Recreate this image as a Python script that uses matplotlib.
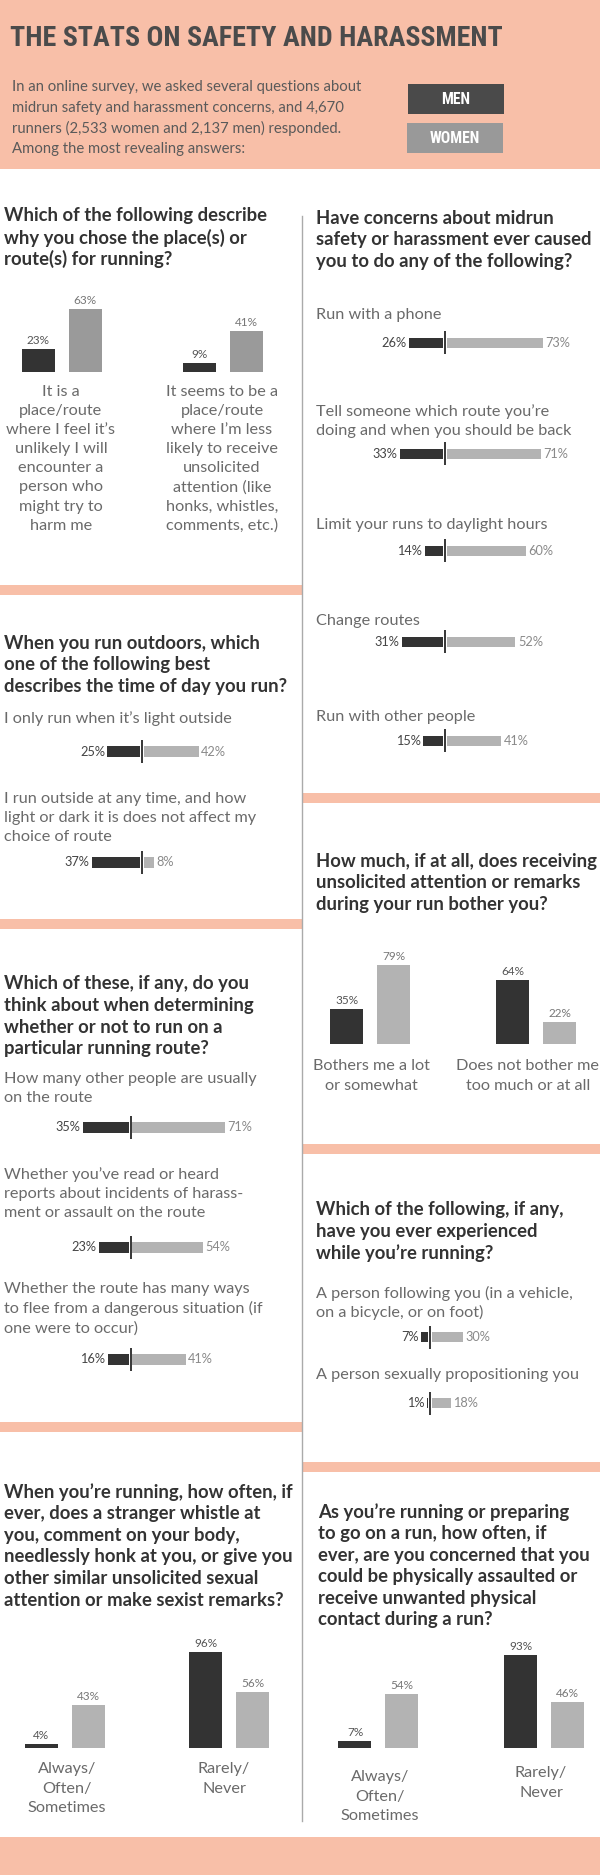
import matplotlib
matplotlib.use("Agg")
import matplotlib.pyplot as plt
from matplotlib import font_manager
from matplotlib.patches import Rectangle

# ---------------- data ----------------
header_title = "THE STATS ON SAFETY AND HARASSMENT"
header_lines = ["In an online survey, we asked several questions about",
                "midrun safety and harassment concerns, and 4,670",
                "runners (2,533 women and 2,137 men) responded.",
                "Among the most revealing answers:"]
legend_labels = ["MEN", "WOMEN"]

# Left column
a_title = ["Which of the following describe", "why you chose the place(s) or",
           "route(s) for running?"]
a_cats = [["It is a", "place/route", "where I feel it\u2019s", "unlikely I will",
           "encounter a", "person who", "might try to", "harm me"],
          ["It seems to be a", "place/route", "where I\u2019m less", "likely to receive",
           "unsolicited", "attention (like", "honks, whistles,", "comments, etc.)"]]
a_men = [23, 9]
a_women = [63, 41]

b_title = ["When you run outdoors, which", "one of the following best",
           "describes the time of day you run?"]
b_items = [["I only run when it\u2019s light outside"],
           ["I run outside at any time, and how", "light or dark it is does not affect my",
            "choice of route"]]
b_men = [25, 37]
b_women = [42, 8]

c_title = ["Which of these, if any, do you", "think about when determining",
           "whether or not to run on a", "particular running route?"]
c_items = [["How many other people are usually", "on the route"],
           ["Whether you\u2019ve read or heard", "reports about incidents of harass-",
            "ment or assault on the route"],
           ["Whether the route has many ways", "to flee from a dangerous situation (if",
            "one were to occur)"]]
c_men = [35, 23, 16]
c_women = [71, 54, 41]

d_title = ["When you\u2019re running, how often, if", "ever, does a stranger whistle at",
           "you, comment on your body,", "needlessly honk at you, or give you",
           "other similar unsolicited sexual", "attention or make sexist remarks?"]
d_cats = [["Always/", "Often/", "Sometimes"], ["Rarely/", "Never"]]
d_men = [4, 96]
d_women = [43, 56]

# Right column
e_title = ["Have concerns about midrun", "safety or harassment ever caused",
           "you to do any of the following?"]
e_items = [["Run with a phone"],
           ["Tell someone which route you\u2019re", "doing and when you should be back"],
           ["Limit your runs to daylight hours"],
           ["Change routes"],
           ["Run with other people"]]
e_men = [26, 33, 14, 31, 15]
e_women = [73, 71, 60, 52, 41]

f_title = ["How much, if at all, does receiving", "unsolicited attention or remarks",
           "during your run bother you?"]
f_cats = [["Bothers me a lot", "or somewhat"], ["Does not bother me", "too much or at all"]]
f_men = [35, 64]
f_women = [79, 22]

g_title = ["Which of the following, if any,", "have you ever experienced",
           "while you\u2019re running?"]
g_items = [["A person following you (in a vehicle,", "on a bicycle, or on foot)"],
           ["A person sexually propositioning you"]]
g_men = [7, 1]
g_women = [30, 18]

h_title = ["As you\u2019re running or preparing", "to go on a run, how often, if",
           "ever, are you concerned that you", "could be physically assaulted or",
           "receive unwanted physical", "contact during a run?"]
h_cats = [["Always/", "Often/", "Sometimes"], ["Rarely/", "Never"]]
h_men = [7, 93]
h_women = [54, 46]

# ---------------- style ----------------
PINK = "#F8BFA8"
DARK = "#333333"
LIGHT = "#b3b3b3"
MID = "#9a9a9a"
TITLE_C = "#333333"
BODY_C = "#6a6a6a"
HEAD_C = "#4b4b4b"

names = {f.name for f in font_manager.fontManager.ttflist}


def pick(cands, default="DejaVu Sans"):
    for c in cands:
        if c in names:
            return c
    return default


BODY = pick(["Lato", "Open Sans", "Roboto", "Noto Sans"])
COND = pick(["Roboto Condensed", "Liberation Sans Narrow", "DejaVu Sans Condensed",
             "Open Sans Condensed"], BODY)
COND_W = 900

W, H = 600, 1875
fig = plt.figure(figsize=(W / 100, H / 100), dpi=100)
bg = fig.add_axes([0, 0, 1, 1])
bg.set_xlim(0, W)
bg.set_ylim(H, 0)
bg.axis("off")
renderer = fig.canvas.get_renderer()


def fit(s, target, **kw):
    t = fig.text(0, 0, s, fontsize=10, **kw)
    w = t.get_window_extent(renderer).width
    t.remove()
    return 10.0 * target / w


def px_axes(x0, y0, x1, y1):
    return fig.add_axes([x0 / W, 1 - y1 / H, (x1 - x0) / W, (y1 - y0) / H])


def rect(x0, y0, x1, y1, color):
    bg.add_patch(Rectangle((x0, y0), x1 - x0, y1 - y0, color=color, lw=0))


TITLE_FS = fit("Which of the following describe", 264, family=BODY, weight="bold")
BODY_FS = fit("I only run when it\u2019s light outside", 227, family=BODY)
HEAD_FS = fit(header_lines[0], 351, family=BODY)
BIG_FS = fit(header_title, 492, family=COND, weight=COND_W)
LEG_FS = fit("WOMEN", 50, family=COND, weight=COND_W)
PCT_FS = fit("73%", 25, family=BODY)
VPCT_FS = fit("63%", 23, family=BODY)

T_OFF = 3.0   # vertical nudge for bold question lines
B_OFF = 1.5   # vertical nudge for body lines


def text_lines(x, y0, lines, step, ha="left", dy=B_OFF, **kw):
    for i, s in enumerate(lines):
        bg.text(x, y0 + dy + i * step, s, ha=ha, va="center", **kw)


def qtitle(x, y0, lines):
    text_lines(x, y0, lines, 21.6, dy=T_OFF, family=BODY, weight="bold",
               fontsize=TITLE_FS, color=TITLE_C)


# ---------------- background ----------------
rect(0, 0, 600, 169, PINK)
rect(0, 1837, 600, 1875, PINK)
for y0 in (585, 919, 1422):
    rect(0, y0, 302, y0 + 10, PINK)
for y0 in (793, 1144, 1462):
    rect(302, y0, 600, y0 + 10, PINK)
bg.plot([302, 302], [216, 1821], color="#aaaaaa", lw=1)

# header
bg.text(10, 39, header_title, family=COND, weight=COND_W,
        fontsize=BIG_FS, color=HEAD_C, va="center", ha="left")
text_lines(12, 86, header_lines, 20.4, family=BODY, fontsize=HEAD_FS, color="#5a5a5a")
rect(408, 84, 504, 114, "#4a4a4a")
rect(407, 123, 503, 153, "#999999")
bg.text(456, 99.5, legend_labels[0], family=COND, weight=COND_W,
        fontsize=LEG_FS, color="white", ha="center", va="center")
bg.text(455, 138.5, legend_labels[1], family=COND, weight=COND_W,
        fontsize=LEG_FS, color="white", ha="center", va="center")


# ---------------- chart helpers ----------------
def vbars(col_x0, baseline, centers, men, women, wcolor, cats, cat_xs, cat_ys,
          off=23.5, bw=33):
    ax = px_axes(col_x0, baseline - 120, col_x0 + 300, baseline)
    ax.set_xlim(col_x0, col_x0 + 300)
    ax.set_ylim(0, 120)
    ax.axis("off")
    mx = [c - off for c in centers]
    wx = [c + off for c in centers]
    ax.bar(mx, men, width=bw, color=DARK)
    ax.bar(wx, women, width=bw, color=wcolor)
    for x, v in zip(mx, men):
        ax.annotate(f"{v}%", (x, v), xytext=(0, 2.5), textcoords="offset points",
                    ha="center", va="bottom", fontsize=VPCT_FS, family=BODY,
                    color="#555555", annotation_clip=False)
    for x, v in zip(wx, women):
        ax.annotate(f"{v}%", (x, v), xytext=(0, 2.5), textcoords="offset points",
                    ha="center", va="bottom", fontsize=VPCT_FS, family=BODY,
                    color="#777777", annotation_clip=False)
    for cx, cy, lines in zip(cat_xs, cat_ys, cats):
        text_lines(cx, cy, lines, 19.2, ha="center", family=BODY, fontsize=BODY_FS,
                   color=BODY_C)


def dbars(col_x0, col_x1, y0, y1, cx, scale, bar_ys, men, women, bar_h=10.5,
          line_h=23):
    ax = px_axes(col_x0, y0, col_x1, y1)
    ax.set_xlim((col_x0 - cx) / scale, (col_x1 - cx) / scale)
    ax.set_ylim(y1, y0)
    ax.axis("off")
    g = 1.8 / scale
    pad = 2.5 / scale
    ax.barh(bar_ys, [-m for m in men], left=-g, height=bar_h, color=DARK)
    ax.barh(bar_ys, women, left=g, height=bar_h, color=LIGHT)
    ax.vlines([0] * len(bar_ys), [y - line_h / 2 for y in bar_ys],
              [y + line_h / 2 for y in bar_ys], color="black", lw=1.1)
    for y, m, w in zip(bar_ys, men, women):
        ax.text(-g - m - pad, y, f"{m}%", ha="right", va="center", family=BODY,
                fontsize=PCT_FS, color="#444444", clip_on=False)
        ax.text(g + w + pad, y, f"{w}%", ha="left", va="center", family=BODY,
                fontsize=PCT_FS, color="#8a8a8a", clip_on=False)


def items(x, label_ys, item_lines):
    for y0, lines in zip(label_ys, item_lines):
        text_lines(x, y0, lines, 19.3, family=BODY, fontsize=BODY_FS, color=BODY_C)


# ---------------- left column ----------------
qtitle(4, 213, a_title)
vbars(0, 372, [61.5, 222.5], a_men, a_women, MID, a_cats, [61, 222], [390, 390])

qtitle(4, 640, b_title)
items(4, [717, 797], b_items)
dbars(0, 302, 700, 900, 142, 1.31, [751.5, 862.5], b_men, b_women, bar_h=11)

qtitle(4, 981, c_title)
items(4, [1077, 1173, 1288], c_items)
dbars(0, 302, 1060, 1400, 130.5, 1.3, [1127, 1247, 1359], c_men, c_women, bar_h=11)

qtitle(4, 1489, d_title)
vbars(0, 1748, [64.5, 229], d_men, d_women, LIGHT, d_cats, [67, 224], [1768, 1768])

# ---------------- right column ----------------
qtitle(316, 215, e_title)
items(316, [313, 410, 523, 620, 716], e_items)
dbars(302, 600, 290, 780, 445, 1.32, [343, 454, 551, 642, 741], e_men, e_women)

qtitle(316, 858, f_title)
vbars(302, 1044, [370.5, 536], f_men, f_women, LIGHT, f_cats, [371, 528], [1065, 1065])

qtitle(316, 1207, g_title)
items(316, [1292, 1373], g_items)
dbars(302, 600, 1280, 1440, 430, 1.04, [1337, 1403], g_men, g_women)

qtitle(318, 1509, h_title)
vbars(302, 1748, [378.5, 544], h_men, h_women, LIGHT, h_cats, [380, 541], [1776, 1772])

fig.savefig("out.png", dpi=100)
